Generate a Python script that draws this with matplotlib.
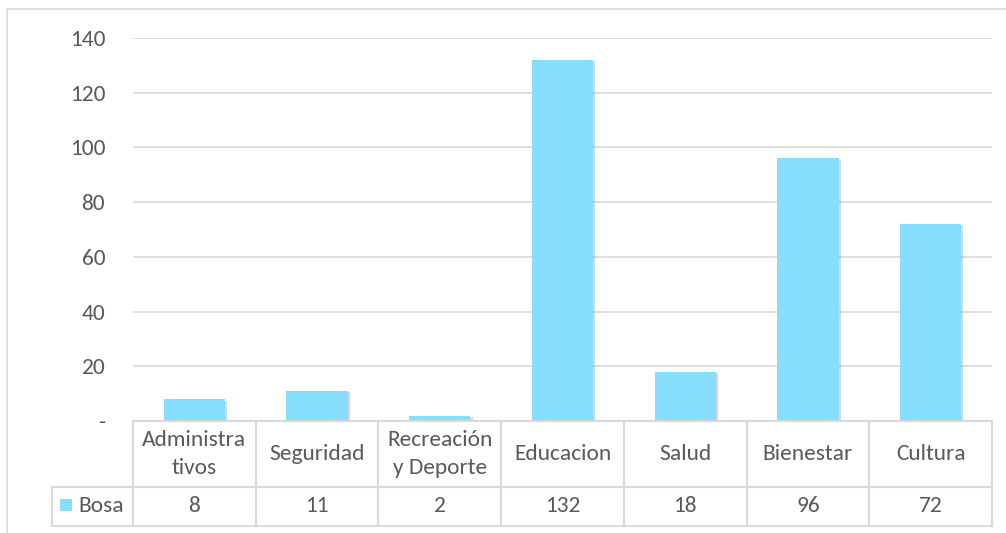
import matplotlib
matplotlib.use("Agg")
import matplotlib.pyplot as plt
import matplotlib.patheffects as pe
from matplotlib.lines import Line2D
from matplotlib.patches import Rectangle
from matplotlib.transforms import blended_transform_factory

categories = ["Administra\ntivos", "Seguridad", "Recreación\ny Deporte", "Educacion", "Salud", "Bienestar", "Cultura"]
values = [8, 11, 2, 132, 18, 96, 72]
series_name = "Bosa"
yticks = [0, 20, 40, 60, 80, 100, 120, 140]
ytick_labels = ["-", "20", "40", "60", "80", "100", "120", "140"]

W, H = 1006, 533
DPI = 100
BAR = "#85DEFC"
TXT = "#595959"
GRID = "#D9D9D9"
FONT = "Carlito"
FS = 16.8

plt.rcParams["font.family"] = [FONT, "DejaVu Sans"]

fig = plt.figure(figsize=(W / DPI, H / DPI), dpi=DPI)

def fy(py):
    return 1 - py / H

def fx(px):
    return px / W

# chart outer border
fig.patches.append(Rectangle((fx(7), fy(560)), fx(1020) - fx(7), fy(9) - fy(560),
                             transform=fig.transFigure, fill=False, edgecolor=GRID, lw=1.2))

left, right, top, bottom = 133, 992, 38, 421
ax = fig.add_axes([fx(left), fy(bottom), fx(right) - fx(left), fy(top) - fy(bottom)])

x = list(range(len(categories)))
bars = ax.bar(x, values, width=0.5, color=BAR, zorder=3)
for b in bars:
    b.set_path_effects([pe.SimplePatchShadow(offset=(1.5, -1), shadow_rgbFace="#000000", alpha=0.15),
                        pe.Normal()])

ax.set_xlim(-0.5, len(categories) - 0.5)
ax.set_ylim(0, 140)
ax.set_yticks(yticks)
ax.set_yticklabels(ytick_labels)
ax.yaxis.grid(True, color=GRID, lw=1.2, zorder=0)
ax.set_axisbelow(True)
ax.tick_params(axis="y", length=0, pad=20, labelsize=FS, labelcolor=TXT)
ax.tick_params(axis="x", length=0, labelbottom=False)
for s in ax.spines.values():
    s.set_visible(False)

# data table
tr = blended_transform_factory(ax.transData, fig.transFigure)
row1_top, row1_bot, row2_bot = 421, 487, 526
leg_left = 52
lines = []
lines.append(Line2D([fx(left), fx(right)], [fy(row1_top), fy(row1_top)]))
lines.append(Line2D([fx(leg_left), fx(right)], [fy(row1_bot), fy(row1_bot)]))
lines.append(Line2D([fx(leg_left), fx(right)], [fy(row2_bot), fy(row2_bot)]))
lines.append(Line2D([fx(leg_left), fx(leg_left)], [fy(row1_bot), fy(row2_bot)]))
for ln in lines:
    ln.set_transform(fig.transFigure)
    ln.set_color(GRID)
    ln.set_linewidth(1.5)
    fig.lines.append(ln)
for k in range(len(categories) + 1):
    ln = Line2D([k - 0.5, k - 0.5], [fy(row1_top), fy(row2_bot)], transform=tr,
                color=GRID, lw=1.5, clip_on=False)
    fig.lines.append(ln)

hc = fy((row1_top + row1_bot) / 2)
vc = fy((row1_bot + row2_bot) / 2)
for i, (c, v) in enumerate(zip(categories, values)):
    fig.text(i, hc, c, transform=tr, ha="center", va="center", fontsize=FS, color=TXT,
             linespacing=1.45)
    fig.text(i, vc, str(v), transform=tr, ha="center", va="center", fontsize=FS, color=TXT)

# legend key
fig.patches.append(Rectangle((fx(60), fy(511)), fx(12), fy(0) - fy(12), transform=fig.transFigure,
                             facecolor=BAR, edgecolor="none"))
fig.text(fx(78), vc, series_name, ha="left", va="center", fontsize=FS, color=TXT)

fig.savefig("out.png", dpi=DPI)
